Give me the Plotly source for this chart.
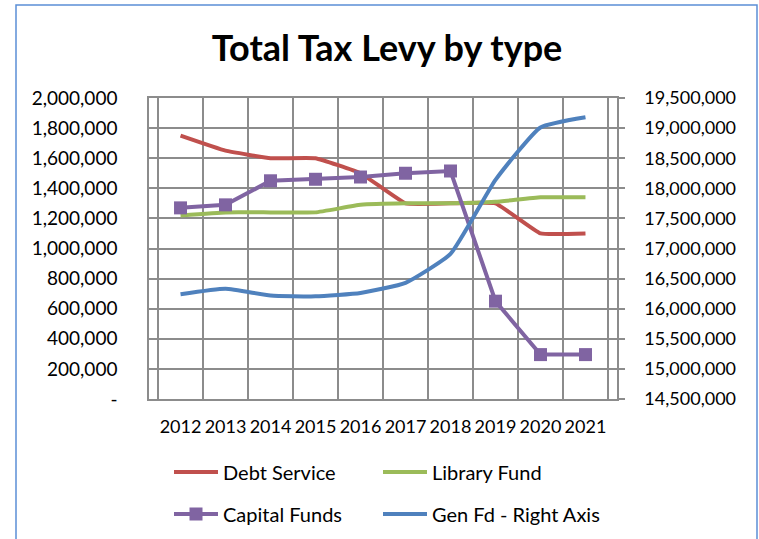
import plotly.graph_objects as go

# Levy data by fiscal year
years = ["2012", "2013", "2014", "2015", "2016", "2017", "2018", "2019", "2020", "2021"]
debt_service = [1750000, 1650000, 1600000, 1600000, 1500000, 1300000, 1300000, 1300000, 1100000, 1100000]
library_fund = [1220000, 1240000, 1240000, 1240000, 1290000, 1300000, 1300000, 1310000, 1340000, 1340000]
capital_funds = [1270000, 1290000, 1450000, 1460000, 1475000, 1500000, 1515000, 650000, 295000, 295000]
gen_fund = [16240000, 16330000, 16220000, 16205000, 16260000, 16430000, 16910000, 18140000, 19010000, 19180000]

left_ticks = list(range(0, 2000001, 200000))
left_labels = ["-" if v == 0 else f"{v:,}" for v in left_ticks]
right_ticks = list(range(14500000, 19500001, 500000))
right_labels = [f"{v:,}" for v in right_ticks]

FONT = "Lato, Calibri, sans-serif"
GRID = "#8c8c8c"

# plot area in pixels
L, R, T, B = 149, 617, 98, 399
W, H = 759, 539
PW, PH = R - L, B - T

fig = go.Figure()
fig.add_trace(go.Scatter(
    x=years, y=debt_service, name="Debt Service", mode="lines",
    line=dict(color="#C0504D", width=4, shape="spline", smoothing=0.3),
    legend="legend",
))
fig.add_trace(go.Scatter(
    x=years, y=library_fund, name="Library Fund", mode="lines",
    line=dict(color="#9BBB59", width=4, shape="spline", smoothing=0.3),
    legend="legend2",
))
fig.add_trace(go.Scatter(
    x=years, y=capital_funds, name="Capital Funds", mode="lines+markers",
    line=dict(color="#8064A2", width=4),
    marker=dict(symbol="square", size=13, color="#8064A2"),
    legend="legend3",
))
fig.add_trace(go.Scatter(
    x=years, y=gen_fund, name="Gen Fd - Right Axis", mode="lines",
    line=dict(color="#4F81BD", width=4, shape="spline", smoothing=0.45),
    yaxis="y2", legend="legend4",
))

legend_common = dict(
    orientation="h", xanchor="left", yanchor="middle", itemwidth=44,
    font=dict(family=FONT, size=20, color="#000000"),
    bgcolor="rgba(0,0,0,0)",
)

# legend cells: two columns, two rows below the plot
col_x = [(174 - 5 - L) / PW, (383 - 5 - L) / PW]
row_y = [(B - 472) / PH, (B - 514) / PH]

fig.update_layout(
    width=W, height=H,
    margin=dict(l=L, r=W - R, t=T, b=H - B, autoexpand=False),
    paper_bgcolor="white", plot_bgcolor="white",
    font=dict(family=FONT, size=18, color="#000000"),
    title=dict(
        text="<b>Total Tax Levy by type</b>",
        font=dict(family=FONT, size=36, color="#000000"),
        x=0.51, xref="container", xanchor="center",
        y=1 - 48 / H, yref="container", yanchor="middle",
    ),
    xaxis=dict(
        type="category", tickson="boundaries", tickangle=0,
        showgrid=True, gridcolor=GRID, gridwidth=1.5,
        showline=True, linecolor=GRID, linewidth=1.5, mirror=True,
        ticks="", tickfont=dict(family=FONT, size=18),
        ticklabelstandoff=11, automargin=False,
        zeroline=False,
    ),
    yaxis=dict(
        range=[0, 2000000], tickvals=left_ticks, ticktext=left_labels,
        showgrid=True, gridcolor=GRID, gridwidth=1.5,
        showline=True, linecolor=GRID, linewidth=1.5, mirror=True,
        ticks="", tickfont=dict(family=FONT, size=19),
        ticklabelstandoff=26, zeroline=False, automargin=False,
    ),
    yaxis2=dict(
        range=[14500000, 19500000], tickvals=right_ticks, ticktext=right_labels,
        overlaying="y", side="right", showgrid=False,
        showline=True, linecolor=GRID, linewidth=1.5,
        ticks="outside", ticklen=6, tickcolor=GRID, tickwidth=1.5,
        tickfont=dict(family=FONT, size=18),
        ticklabelstandoff=16, zeroline=False, automargin=False,
    ),
    legend=dict(legend_common, x=col_x[0], y=row_y[0]),
    legend2=dict(legend_common, x=col_x[1], y=row_y[0]),
    legend3=dict(legend_common, x=col_x[0], y=row_y[1]),
    legend4=dict(legend_common, x=col_x[1], y=row_y[1]),
    showlegend=True,
    shapes=[dict(
        type="rect", xref="paper", yref="paper",
        x0=(16 - L) / PW, x1=(757 - L) / PW,
        y0=(B - 545) / PH, y1=(B - 5) / PH,
        line=dict(color="#5B8FD6", width=1.5), fillcolor="rgba(0,0,0,0)",
        layer="below",
    )],
)

fig.write_html("out.html")
